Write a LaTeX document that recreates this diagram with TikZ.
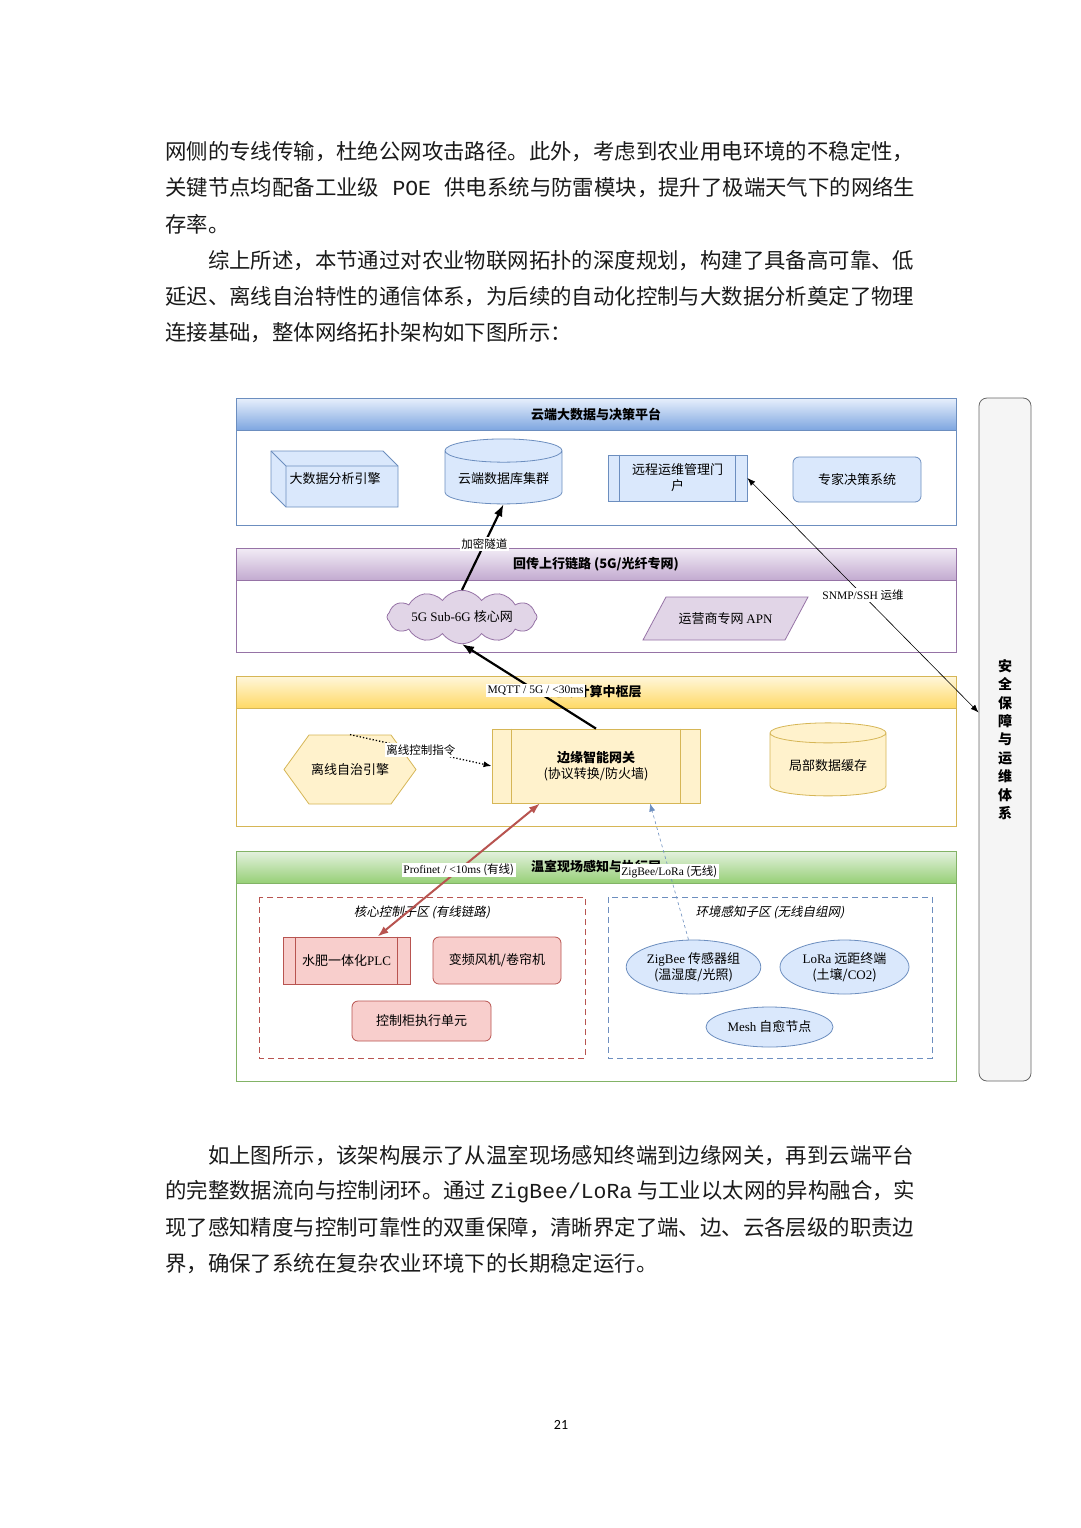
\documentclass[tikz,border=0pt]{standalone}
\usepackage{fontspec}
\setmainfont{Noto Sans CJK SC}
\newfontfamily\lat{Liberation Serif}
\newfontfamily\mono{Liberation Mono}
\newfontfamily\cjkit[FakeSlant=0.2]{Noto Sans CJK SC}
\newfontfamily\pgfont{Carlito}
\usetikzlibrary{arrows.meta,shapes.geometric,shapes.symbols}

\definecolor{Lcloud}{HTML}{6C8EBF}
\definecolor{Tcloud}{HTML}{E8F0FC}
\definecolor{Bcloud}{HTML}{7EA6E0}
\definecolor{Fcloud}{HTML}{DAE8FC}
\definecolor{Llink}{HTML}{9673A6}
\definecolor{Tlink}{HTML}{F2ECF6}
\definecolor{Blink}{HTML}{C3ABD0}
\definecolor{Flink}{HTML}{E1D5E7}
\definecolor{Ledge}{HTML}{D6B656}
\definecolor{Tedge}{HTML}{FFF7DC}
\definecolor{Bedge}{HTML}{FFD966}
\definecolor{Fedge}{HTML}{FFF2CC}
\definecolor{Lfield}{HTML}{82B366}
\definecolor{Tfield}{HTML}{E4F1DF}
\definecolor{Bfield}{HTML}{97D077}
\definecolor{Lred}{HTML}{B85450}
\definecolor{Fred}{HTML}{F8CECC}
\definecolor{Lsec}{HTML}{666666}
\definecolor{Fsec}{HTML}{F5F5F5}
\definecolor{ink}{HTML}{1A1A1A}

\begin{document}
\begin{tikzpicture}[x=1pt, y=-1pt,
  txt/.style={anchor=west, inner sep=0pt, text=ink, font=\fontsize{21.4}{36}\selectfont},
  ttl/.style={inner sep=0pt, font=\bfseries\fontsize{13}{15}\selectfont},
  nd/.style={align=center, inner sep=1pt, line width=0.8pt, font=\fontsize{13}{16}\selectfont},
  cbox/.style={nd, draw=Lcloud, fill=Fcloud},
  ybox/.style={nd, draw=Ledge, fill=Fedge},
  rbox/.style={nd, draw=Lred, fill=Fred},
  ebox/.style={nd, ellipse, draw=Lcloud, fill=Fcloud},
  grp/.style={line width=0.8pt, dash pattern=on 6pt off 4pt},
  grplbl/.style={font=\cjkit\fontsize{12.5}{15}\selectfont},
  lbl/.style={fill=white, inner sep=1.5pt, font=\fontsize{11.5}{13}\selectfont},
  bigarrow/.style={line width=2.2pt, -{Latex[length=12pt,width=9pt]}}]
\useasboundingbox[fill=white] (0,0) rectangle (1080,1528);

% text above the figure
\node[txt] (top1) at (165,152) {\makebox[750pt][s]{网侧的专线传输，杜绝公网攻击路径。此外，考虑到农业用电环境的不稳定性，}};
\node[txt] (top2) at (165,188) {\makebox[750pt][s]{关键节点均配备工业级 {\mono POE} 供电系统与防雷模块，提升了极端天气下的网络生}};
\node[txt] (top3) at (165,224) {存率。};
\node[txt] (top4) at (165,261) {\hspace{2em}综上所述，本节通过对农业物联网拓扑的深度规划，构建了具备高可靠、低};
\node[txt] (top5) at (165,297) {延迟、离线自治特性的通信体系，为后续的自动化控制与大数据分析奠定了物理};
\node[txt] (top6) at (165,333) {连接基础，整体网络拓扑架构如下图所示：};

% the four layers
\foreach \yt/\yb/\c/\ttlname in {398/525/cloud/{云端大数据与决策平台},
    548/652/link/{回传上行链路 (5G/光纤专网)},
    676/826/edge/{边缘计算中枢层},
    851/1081/field/{温室现场感知与执行层}}
{
  \draw[draw=L\c, line width=0.8pt, fill=white] (236,\yt) rectangle (956,\yb);
  \shade[top color=T\c, bottom color=B\c, draw=L\c, line width=0.8pt] (236,\yt) rectangle (956,\yt+32);
  \node[ttl] (t\c) at (596,\yt+16) {\ttlname};
}

% security side bar
\node[draw=Lsec, fill=Fsec, rounded corners=8pt, line width=0.8pt, minimum width=52, minimum height=683,
  align=center, font=\bfseries\fontsize{14}{18.4}\selectfont] (sec) at (1005,739.5)
  {安\\全\\保\\障\\与\\运\\维\\体\\系};

% cloud layer
\draw[draw=Lcloud, fill=Fcloud, line width=0.8pt] (271,451) -- (383,451) -- (398,466) -- (398,507) -- (286,507) -- (271,492) -- cycle;
\draw[draw=Lcloud, line width=0.8pt] (271,451) -- (286,466) -- (398,466) (286,466) -- (286,507);
\node[nd] (bigdata) at (335,479) {大数据分析引擎};
\node[cbox, cylinder, shape border rotate=90, aspect=0.25, minimum width=117, minimum height=65] (db) at (503.5,478.5) {云端数据库集群};
\node[cbox, minimum width=139, minimum height=46] (portal) at (677.5,478) {远程运维管理门\\户};
\draw[draw=Lcloud, line width=0.8pt] ([xshift=12]portal.north west) -- ([xshift=12]portal.south west)
  ([xshift=-12]portal.north east) -- ([xshift=-12]portal.south east);
\node[cbox, rounded corners=6pt, minimum width=128, minimum height=45] (expert) at (857,479.5) {专家决策系统};

% backhaul layer
\node[nd, cloud, cloud puffs=12, cloud puff arc=110, aspect=4.2, draw=Llink, fill=Flink,
  minimum width=150, minimum height=38] (core) at (462,617) {{\lat 5G Sub-6G} 核心网};
\draw[draw=Llink, fill=Flink, line width=0.8pt] (643,640) -- (666,597) -- (808,597) -- (785,640) -- cycle;
\node[nd] (apn) at (725.5,618.5) {运营商专网 {\lat APN}};

% edge layer
\draw[draw=Ledge, fill=Fedge, line width=0.8pt] (284,769.5) -- (309,735) -- (391,735) -- (416,769.5) -- (391,804) -- (309,804) -- cycle;
\node[nd, minimum width=132, minimum height=69] (offline) at (350,769.5) {离线自治引擎};
\node[ybox, minimum width=208, minimum height=74] (gw) at (596,766) {\textbf{边缘智能网关}\\(协议转换/防火墙)};
\draw[draw=Ledge, line width=0.8pt] ([xshift=20]gw.north west) -- ([xshift=20]gw.south west)
  ([xshift=-20]gw.north east) -- ([xshift=-20]gw.south east);
\node[ybox, cylinder, shape border rotate=90, aspect=0.25, minimum width=116, minimum height=73] (cache) at (828,765.5) {局部数据缓存};

% field layer
\draw[grp, draw=Lred] (259,897) rectangle (585,1058);
\node[grplbl] (wired) at (422,912) {核心控制子区 (有线链路)};
\draw[grp, draw=Lcloud] (608,897) rectangle (932,1058);
\node[grplbl] (wireless) at (770,912) {环境感知子区 (无线自组网)};
\node[rbox, minimum width=127, minimum height=47] (plc) at (346.5,960.5) {水肥一体化{\lat PLC}};
\draw[draw=Lred, line width=0.8pt] ([xshift=13]plc.north west) -- ([xshift=13]plc.south west)
  ([xshift=-13]plc.north east) -- ([xshift=-13]plc.south east);
\node[rbox, rounded corners=6pt, minimum width=128, minimum height=47] (fan) at (497,960.5) {变频风机/卷帘机};
\node[rbox, rounded corners=6pt, minimum width=139, minimum height=40] (cab) at (421.5,1021) {控制柜执行单元};
\node[ebox, minimum width=127, minimum height=54] (zig) at (693.5,967) {{\lat ZigBee} 传感器组\\(温湿度/光照)};
\node[ebox, minimum width=129, minimum height=54] (lora) at (844.5,967) {{\lat LoRa} 远距终端\\(土壤/{\lat CO2})};
\node[ebox, minimum width=127, minimum height=40] (mesh) at (769.5,1027) {{\lat Mesh} 自愈节点};

% connectors
\draw[bigarrow] (core.north) -- (db.south) node[lbl, pos=0.54] (l1) {加密隧道};
\draw[bigarrow] (gw.north) -- (core.south) node[lbl, pos=0.45] (l2) {\lat MQTT / 5G / <30ms};
\draw[line width=0.6pt, {Latex[length=8pt,width=6pt]}-{Latex[length=8pt,width=6pt]}] (portal.east) -- ([yshift=27]sec.west)
  node[lbl, pos=0.5] (l3) {{\lat SNMP/SSH} 运维};
\draw[line width=1.3pt, dotted, -{Latex[length=8pt,width=6pt]}] (offline.north) -- (gw.west)
  node[lbl, pos=0.5] (l4) {离线控制指令};
\draw[draw=Lred, line width=2pt, {Latex[length=11pt,width=8pt]}-{Latex[length=11pt,width=8pt]}]
  ([xshift=-56]gw.south) -- ([xshift=31]plc.north) node[lbl, pos=0.5] (l5) {{\lat Profinet / <10ms} (有线)};
\draw[draw=Lcloud, line width=0.6pt, dashed, -{Latex[length=8pt,width=6pt]}]
  ([xshift=-5]zig.north) -- ([xshift=54]gw.south) node[lbl, pos=0.5] (l6) {{\lat ZigBee/LoRa} (无线)};

% text below the figure
\node[txt] (bot1) at (165,1156) {\hspace{2em}如上图所示，该架构展示了从温室现场感知终端到边缘网关，再到云端平台};
\node[txt] (bot2) at (165,1192) {\makebox[750pt][s]{的完整数据流向与控制闭环。通过 {\mono ZigBee/LoRa} 与工业以太网的异构融合，实}};
\node[txt] (bot3) at (165,1228) {现了感知精度与控制可靠性的双重保障，清晰界定了端、边、云各层级的职责边};
\node[txt] (bot4) at (165,1264) {界，确保了系统在复杂农业环境下的长期稳定运行。};

\node[font=\pgfont\fontsize{14}{16}\selectfont] (page) at (561,1425) {21};
\end{tikzpicture}
\end{document}
